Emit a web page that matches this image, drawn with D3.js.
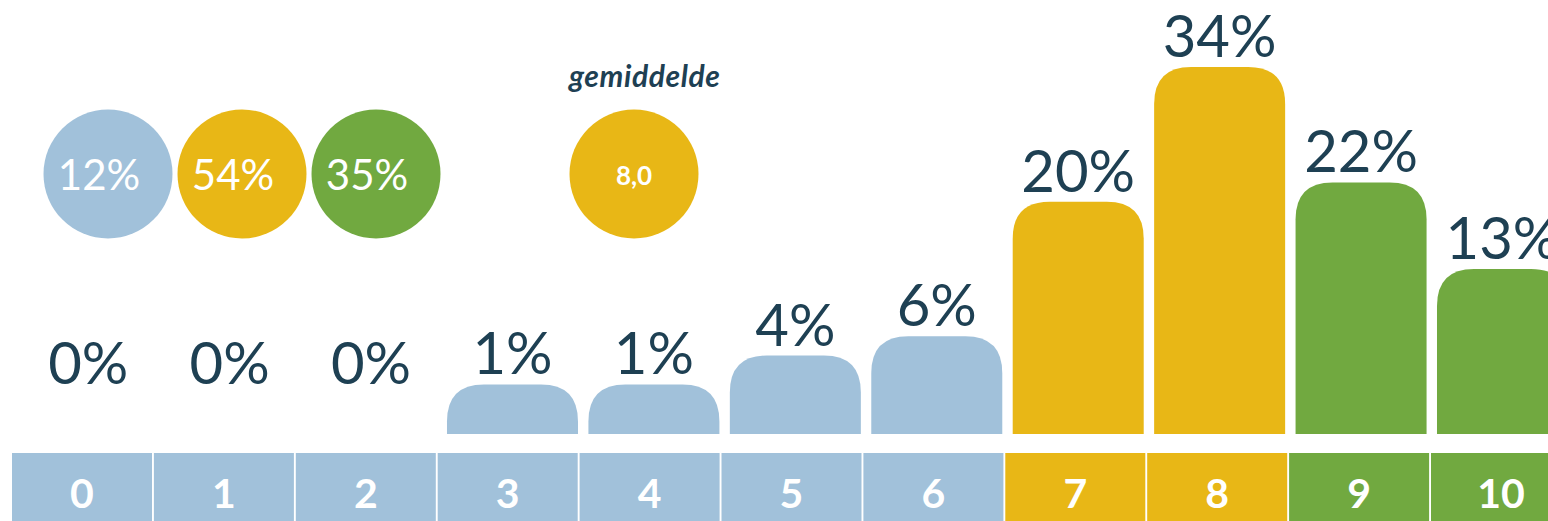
<!DOCTYPE HTML>
<html lang="nl">
<head>
<meta charset="utf-8">
<title>rapportcijfer verdeling</title>
<style>
html, body {
    margin: 0;
    width: 100%;
    height: 100%;
    background: #fff;
    overflow: hidden;
 }
svg text {
    font-family: Lato, "Open Sans", sans-serif;
 }
</style>
</head>
<body>

<div id="chart"></div>

<script src="https://cdn.jsdelivr.net/npm/d3@7/dist/d3.min.js"></script>
<script>
(function() {
  'use strict';

// Data
const categories = ['0', '1', '2', '3', '4', '5', '6', '7', '8', '9', '10'];
const shares = [0, 0, 0, 1, 1, 4, 6, 20, 34, 22, 13];
const categoryGroup = ['laag', 'laag', 'laag', 'laag', 'laag', 'laag', 'laag', 'midden', 'midden', 'hoog', 'hoog'];
const groups = ['laag', 'midden', 'hoog'];
const groupShares = [12, 54, 35];
const averageLabel = 'gemiddelde';
const average = 8.0;

// Configuration
const width = 1548;
const height = 521;
const base = 434;
const radius = 37;
const colors = { laag: '#a1c1da', midden: '#e8b716', hoog: '#71a940' };
const textColor = '#1e4053';

const svg = d3.select('#chart')
  .append('svg')
  .attr('width', width)
  .attr('height', height);

// Scales
const xCell = d3.scaleBand()
  .domain(categories)
  .range([12, 1571])
  .paddingInner(0.0134);

const xBar = d3.scaleBand()
  .domain(categories)
  .range([22.7, 1568])
  .paddingInner(0.0737);

const y = d3.scaleLinear()
  .domain([0, 34])
  .range([394, 67]);

const data = categories.map((c, i) => ({ cat: c, value: shares[i], group: categoryGroup[i] }));

// Bar with rounded top corners
function topRounded(x, top, w, bottom, r) {
  r = Math.min(r, w / 2, bottom - top);
  return 'M' + x + ',' + bottom +
    'V' + (top + r) +
    'Q' + x + ',' + top + ' ' + (x + r) + ',' + top +
    'H' + (x + w - r) +
    'Q' + (x + w) + ',' + top + ' ' + (x + w) + ',' + (top + r) +
    'V' + bottom + 'Z';
}

svg.selectAll('path.bar')
  .data(data.filter(d => d.value > 0))
  .enter()
  .append('path')
  .attr('class', 'bar')
  .attr('fill', d => colors[d.group])
  .attr('d', d => topRounded(xBar(d.cat), y(d.value), xBar.bandwidth(), base, radius));

// Value labels
svg.selectAll('text.value')
  .data(data)
  .enter()
  .append('text')
  .attr('class', 'value')
  .attr('x', d => xBar(d.cat) + xBar.bandwidth() / 2)
  .attr('y', d => y(d.value) - 10)
  .attr('text-anchor', 'middle')
  .attr('fill', textColor)
  .style('font-size', '58px')
  .text(d => d.value + '%');

// Category cells
const cells = svg.selectAll('g.cell')
  .data(data)
  .enter()
  .append('g')
  .attr('class', 'cell')
  .attr('transform', d => 'translate(' + xCell(d.cat) + ',453)');

cells.append('rect')
  .attr('width', xCell.bandwidth())
  .attr('height', 80)
  .attr('fill', d => colors[d.group]);

cells.append('text')
  .attr('x', xCell.bandwidth() / 2)
  .attr('y', 55)
  .attr('text-anchor', 'middle')
  .attr('fill', '#fff')
  .style('font-size', '41px')
  .style('font-weight', 'bold')
  .text(d => d.cat);

// Group share circles
const xCircle = d3.scalePoint()
  .domain(groups)
  .range([108, 376]);

const circles = svg.selectAll('g.share')
  .data(groups)
  .enter()
  .append('g')
  .attr('class', 'share')
  .attr('transform', d => 'translate(' + xCircle(d) + ',174)');

circles.append('circle')
  .attr('r', 64.5)
  .attr('fill', d => colors[d]);

circles.append('text')
  .attr('x', -9)
  .attr('y', 16)
  .attr('text-anchor', 'middle')
  .attr('fill', '#fff')
  .style('font-size', '42px')
  .text((d, i) => groupShares[i] + '%');

// Average
const avg = svg.append('g')
  .attr('transform', 'translate(634,174)');

avg.append('circle')
  .attr('r', 64.5)
  .attr('fill', colors[categoryGroup[Math.round(average)]]);

avg.append('text')
  .attr('y', 11)
  .attr('text-anchor', 'middle')
  .attr('fill', '#fff')
  .style('font-size', '26px')
  .style('font-weight', 'bold')
  .text(d3.format('.1f')(average).replace('.', ','));

avg.append('text')
  .attr('x', -65)
  .attr('y', -87)
  .attr('fill', textColor)
  .style('font-size', '30px')
  .style('letter-spacing', '0.6px')
  .style('font-weight', 'bold')
  .style('font-style', 'italic')
  .text(averageLabel);

}());
</script>
</body>
</html>
